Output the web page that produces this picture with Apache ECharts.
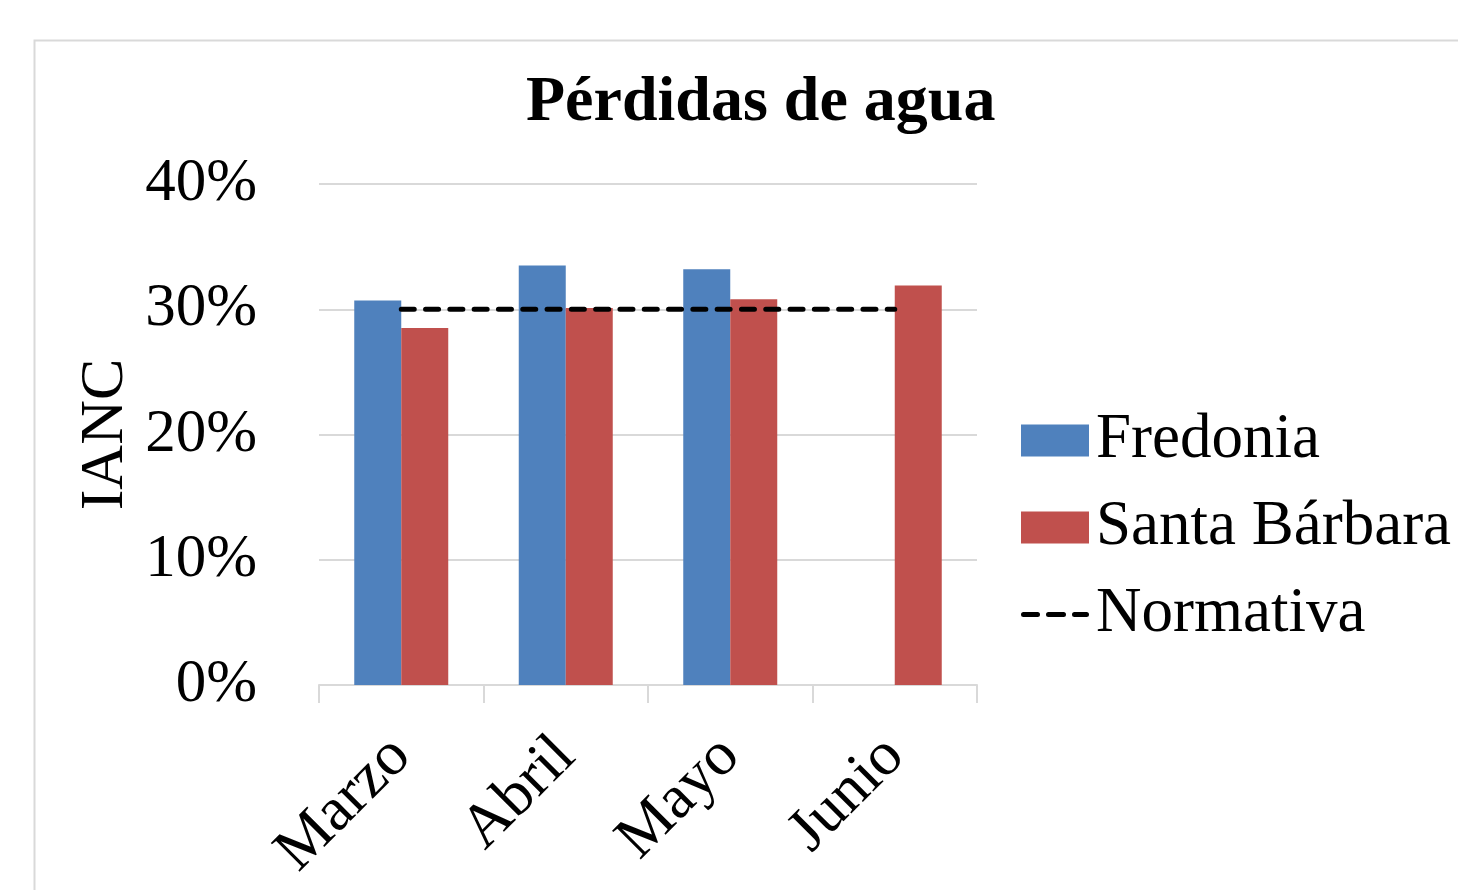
<!DOCTYPE html>
<html>
<head>
<meta charset="utf-8">
<script src="https://cdn.jsdelivr.net/npm/echarts@6/dist/echarts.min.js"></script>
<style>html,body{margin:0;padding:0;background:#fff;}#c{width:1458px;height:890px;}</style>
</head>
<body>
<div id="c"></div>
<script>
const categories = ['Marzo', 'Abril', 'Mayo', 'Junio'];
const fredonia = [0.307, 0.335, 0.332, null];
const santaBarbara = [0.285, 0.301, 0.308, 0.319];
const normativa = [0.30, 0.30, 0.30, 0.30];
const yTicks = [0, 0.1, 0.2, 0.3, 0.4];

const FONT = "'Liberation Serif', 'Times New Roman', serif";
// legend icon for dashed line: three rounded dashes inside a 68x32 box
const dashIcon = 'path://M0,0h0.1v0.1h-0.1z M67.9,31.9h0.1v0.1h-0.1z ' +
  'M2.5,13.5h14a2.5,2.5 0 0 1 0,5h-14a2.5,2.5 0 0 1 0,-5z ' +
  'M27.5,13.5h15a2.5,2.5 0 0 1 0,5h-15a2.5,2.5 0 0 1 0,-5z ' +
  'M53.5,13.5h12a2.5,2.5 0 0 1 0,5h-12a2.5,2.5 0 0 1 0,-5z';

const chart = echarts.init(document.getElementById('c'), null, {renderer: 'canvas'});
chart.setOption({
  animation: false,
  backgroundColor: '#fff',
  graphic: [{
    type: 'rect', left: 32, top: 38, z: -1,
    shape: {width: 1500, height: 900},
    style: {fill: 'none', stroke: '#d9d9d9', lineWidth: 2}
  }],
  title: {
    text: 'Pérdidas de agua',
    left: 521, top: 66,
    textStyle: {fontFamily: FONT, fontWeight: 'bold', fontSize: 64, color: '#000'}
  },
  legend: {
    orient: 'vertical',
    left: 1016, top: 404,
    itemWidth: 68, itemHeight: 32, itemGap: 24,
    textStyle: {fontFamily: FONT, fontSize: 63, color: '#000', padding: [0, 0, 0, 2]},
    data: [
      {name: 'Fredonia', icon: 'rect'},
      {name: 'Santa Bárbara', icon: 'rect'},
      {name: 'Normativa', icon: dashIcon, itemStyle: {color: '#000'}}
    ]
  },
  grid: {left: 319, right: 481, top: 184, bottom: 205, containLabel: false},
  xAxis: {
    type: 'category',
    data: categories,
    axisLine: {show: true, lineStyle: {color: '#d9d9d9', width: 2}},
    axisTick: {show: true, length: 18, lineStyle: {color: '#d9d9d9', width: 2}},
    axisLabel: {rotate: 45, fontFamily: FONT, fontSize: 62, color: '#000', margin: 62, interval: 0}
  },
  yAxis: {
    type: 'value',
    min: 0, max: 0.4, interval: 0.1,
    name: 'IANC',
    nameLocation: 'middle',
    nameGap: 182,
    nameTextStyle: {fontFamily: FONT, fontSize: 62, color: '#000'},
    axisLine: {show: false},
    axisTick: {show: false},
    splitLine: {show: true, lineStyle: {color: '#d9d9d9', width: 2}},
    axisLabel: {
      fontFamily: FONT, fontSize: 61, color: '#000', margin: 62,
      formatter: v => yTicks.some(t => Math.abs(t - v) < 1e-9) ? Math.round(v * 100) + '%' : ''
    }
  },
  series: [
    {name: 'Fredonia', type: 'bar', data: fredonia, barWidth: 47, barGap: '0%',
     itemStyle: {color: '#4F81BD'}},
    {name: 'Santa Bárbara', type: 'bar', data: santaBarbara, barWidth: 47, barGap: '0%',
     itemStyle: {color: '#C0504D'}},
    {name: 'Normativa', type: 'line', data: normativa, symbol: 'none', z: 5,
     itemStyle: {color: '#000'},
     lineStyle: {color: '#000', width: 5, type: [13, 11.3], cap: 'round'}}
  ]
});
</script>
</body>
</html>
